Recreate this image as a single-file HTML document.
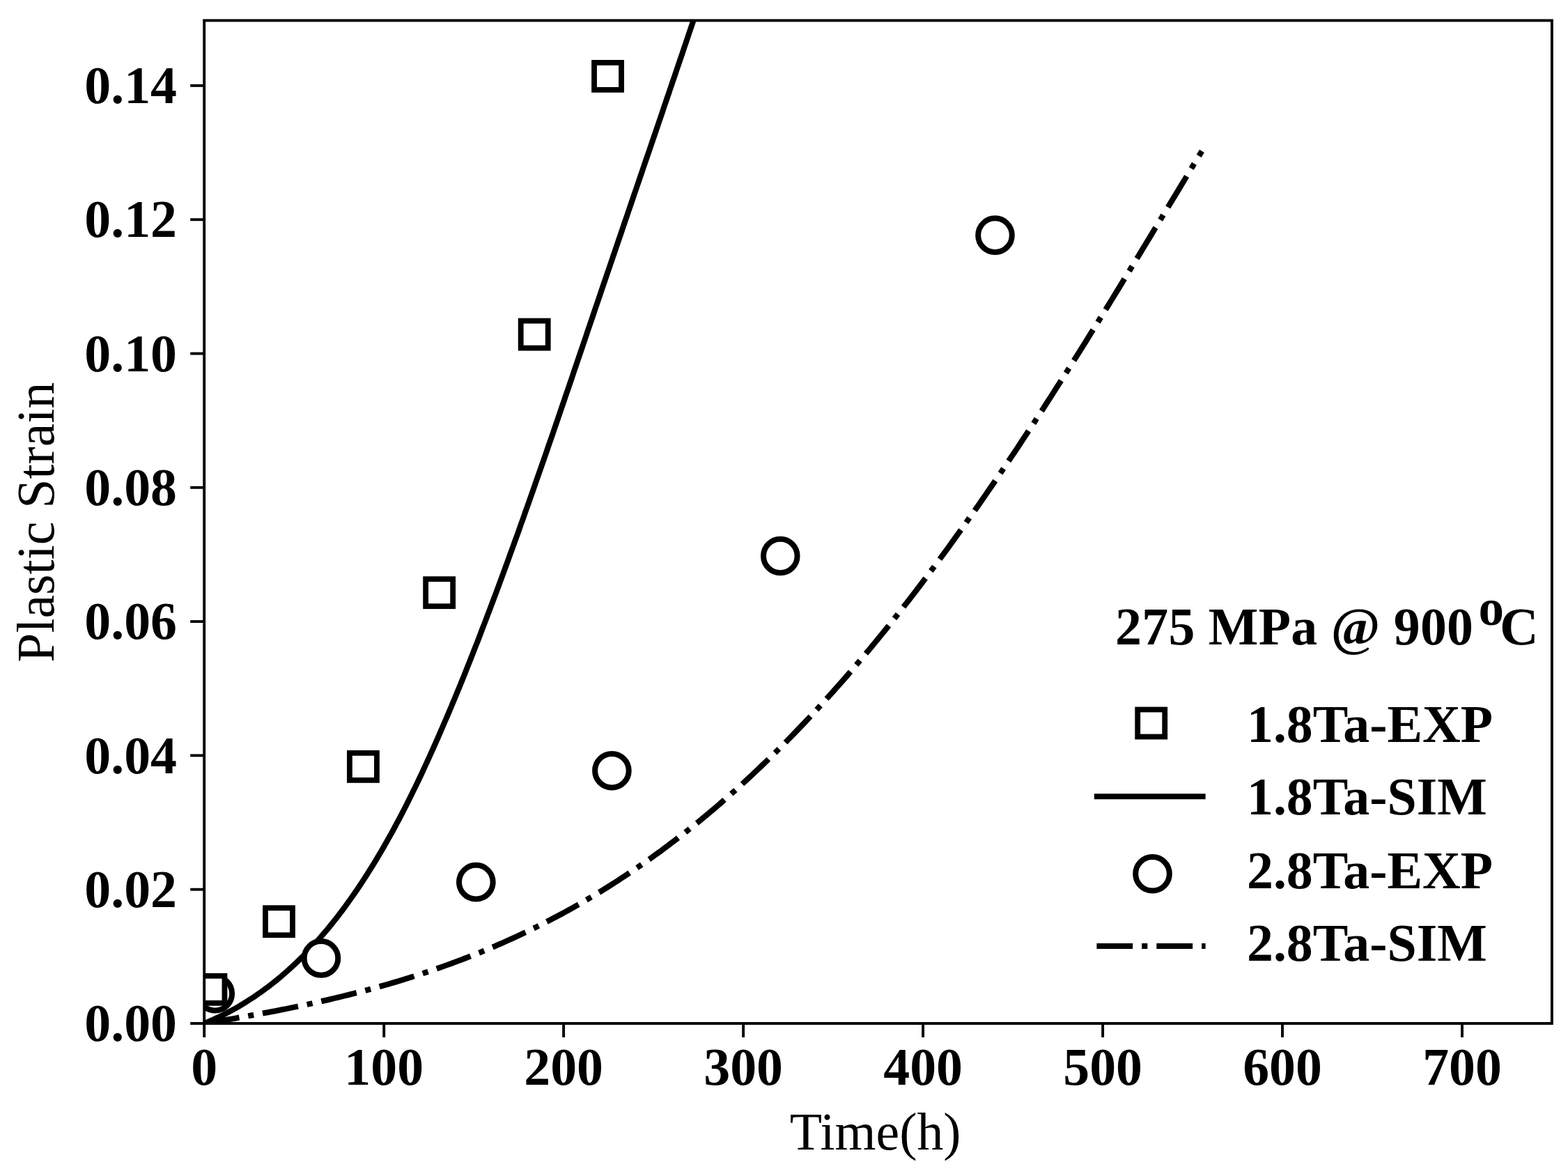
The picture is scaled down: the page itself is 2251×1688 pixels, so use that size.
<!DOCTYPE html>
<html lang="en"><head><meta charset="utf-8"><title>Plastic Strain vs Time</title>
<style>html,body{margin:0;padding:0;background:#fff;}svg{display:block;}</style></head>
<body>
<svg xmlns="http://www.w3.org/2000/svg" width="2251" height="1688" viewBox="0 0 2251 1688">
<rect x="0" y="0" width="2251" height="1688" fill="#fff"/>
<defs><clipPath id="ax"><rect x="293.2" y="29.4" width="1934.7" height="1439.6"/></clipPath></defs>
<g clip-path="url(#ax)" fill="none" stroke="#000">
<path d="M293.2,1469.0 L299.5,1466.4 L305.8,1463.6 L312.0,1460.8 L318.1,1457.8 L324.1,1454.8 L330.1,1451.7 L336.0,1448.5 L341.8,1445.2 L347.5,1441.8 L353.2,1438.3 L358.8,1434.7 L364.4,1431.1 L369.8,1427.3 L375.3,1423.5 L380.6,1419.6 L385.9,1415.7 L391.1,1411.6 L396.3,1407.5 L401.4,1403.3 L406.4,1399.0 L411.4,1394.7 L416.3,1390.3 L421.2,1385.8 L426.0,1381.3 L430.7,1376.7 L435.4,1372.1 L440.0,1367.3 L444.6,1362.6 L449.1,1357.7 L453.6,1352.8 L458.0,1347.9 L462.3,1342.9 L466.6,1337.9 L470.9,1332.8 L475.1,1327.6 L479.2,1322.5 L483.4,1317.2 L487.4,1312.0 L491.4,1306.7 L495.4,1301.3 L499.3,1295.9 L503.2,1290.5 L507.0,1285.0 L510.8,1279.6 L514.6,1274.0 L518.3,1268.5 L521.9,1262.9 L525.6,1257.3 L529.1,1251.7 L532.7,1246.0 L536.2,1240.4 L539.7,1234.7 L543.1,1228.9 L546.5,1223.2 L549.9,1217.4 L553.2,1211.6 L556.5,1205.8 L559.7,1200.0 L563.0,1194.2 L566.2,1188.3 L569.3,1182.4 L572.5,1176.5 L575.6,1170.6 L578.7,1164.7 L581.7,1158.7 L584.7,1152.8 L587.7,1146.8 L590.7,1140.8 L593.6,1134.8 L596.6,1128.8 L599.5,1122.8 L602.3,1116.7 L605.2,1110.7 L608.0,1104.6 L610.8,1098.6 L613.6,1092.5 L616.4,1086.4 L619.1,1080.3 L621.9,1074.2 L624.6,1068.1 L627.3,1062.0 L630.0,1055.9 L632.6,1049.8 L635.3,1043.7 L637.9,1037.5 L640.6,1031.4 L643.2,1025.3 L645.8,1019.1 L648.4,1013.0 L650.9,1006.9 L653.5,1000.7 L656.0,994.6 L658.6,988.4 L661.1,982.2 L663.6,976.1 L666.1,969.9 L668.6,963.7 L671.0,957.6 L673.5,951.4 L675.9,945.2 L678.4,939.0 L680.8,932.8 L683.2,926.6 L685.7,920.4 L688.1,914.2 L690.4,908.0 L692.8,901.8 L695.2,895.6 L697.6,889.4 L699.9,883.2 L702.3,877.0 L704.6,870.8 L707.0,864.5 L709.3,858.3 L711.7,852.1 L714.0,845.8 L716.3,839.6 L718.6,833.4 L720.9,827.1 L723.2,820.9 L725.5,814.6 L727.8,808.4 L730.1,802.1 L732.3,795.9 L734.6,789.6 L736.9,783.4 L739.1,777.1 L741.4,770.8 L743.7,764.6 L745.9,758.3 L748.1,752.0 L750.4,745.8 L752.6,739.5 L754.8,733.2 L757.1,726.9 L759.3,720.6 L761.5,714.4 L763.7,708.1 L765.9,701.8 L768.1,695.5 L770.3,689.2 L772.5,682.9 L774.7,676.6 L776.9,670.3 L779.1,664.1 L781.3,657.8 L783.5,651.5 L785.7,645.2 L787.8,638.9 L790.0,632.6 L792.2,626.3 L794.4,620.0 L796.5,613.7 L798.7,607.4 L800.9,601.0 L803.0,594.7 L805.2,588.4 L807.3,582.1 L809.5,575.8 L811.6,569.5 L813.8,563.2 L816.0,556.9 L818.1,550.6 L820.3,544.3 L822.4,538.0 L824.5,531.6 L826.7,525.3 L828.8,519.0 L831.0,512.7 L833.1,506.4 L835.3,500.1 L837.4,493.8 L839.6,487.5 L841.7,481.2 L843.8,474.8 L846.0,468.5 L848.1,462.2 L850.3,455.9 L852.4,449.6 L854.5,443.3 L856.7,437.0 L858.8,430.7 L861.0,424.4 L863.1,418.0 L865.3,411.7 L867.4,405.4 L869.6,399.1 L871.7,392.8 L873.9,386.5 L876.0,380.2 L878.2,373.9 L880.3,367.6 L882.5,361.3 L884.6,355.0 L886.8,348.7 L888.9,342.4 L891.1,336.1 L893.2,329.8 L895.4,323.4 L897.5,317.1 L899.7,310.8 L901.8,304.5 L904.0,298.2 L906.1,291.9 L908.3,285.6 L910.4,279.3 L912.6,273.0 L914.7,266.7 L916.9,260.4 L919.0,254.1 L921.2,247.8 L923.3,241.5 L925.5,235.2 L927.6,228.9 L929.8,222.6 L932.0,216.3 L934.1,210.0 L936.3,203.7 L938.4,197.4 L940.6,191.1 L942.7,184.8 L944.9,178.5 L947.0,172.2 L949.2,165.9 L951.3,159.6 L953.4,153.3 L955.6,146.9 L957.7,140.6 L959.9,134.3 L962.0,128.0 L964.2,121.7 L966.3,115.4 L968.5,109.1 L970.6,102.8 L972.7,96.5 L974.9,90.2 L977.0,83.9 L979.2,77.6 L981.3,71.3 L983.4,64.9 L985.6,58.6 L987.7,52.3 L989.8,46.0 L992.0,39.7 L994.1,33.4 L996.2,27.1 L998.4,20.7 L1000.5,14.4 L1002.6,8.1 L1004.8,1.8 L1006.9,-4.5 L1009.0,-10.8 L1011.1,-17.2 L1013.3,-23.5 L1015.4,-29.8 L1017.5,-36.1 L1019.6,-42.4 L1021.7,-48.8 L1023.8,-55.1" stroke-width="8.1" stroke-linejoin="round"/>
<path d="M293.2,1469.0 L298.0,1468.2 L302.8,1467.5 L307.6,1466.7 L312.4,1465.9 L317.1,1465.1 L321.9,1464.3 L326.7,1463.5 L331.5,1462.7 L336.3,1461.9 L341.1,1461.0 L345.9,1460.2 L350.7,1459.4 L355.5,1458.5 L360.3,1457.6 L365.0,1456.8 L369.8,1455.9 L374.6,1455.0 L379.4,1454.1 L384.2,1453.2 L389.0,1452.3 L393.8,1451.4 L398.6,1450.5 L403.4,1449.5 L408.2,1448.6 L412.9,1447.6 L417.7,1446.6 L422.5,1445.6 L427.3,1444.6 L432.1,1443.6 L436.9,1442.6 L441.7,1441.6 L446.5,1440.6 L451.3,1439.5 L456.1,1438.4 L460.8,1437.4 L465.6,1436.3 L470.4,1435.2 L475.2,1434.0 L480.0,1432.9 L484.8,1431.8 L489.6,1430.6 L494.4,1429.4 L499.2,1428.2 L504.0,1427.0 L508.7,1425.8 L513.5,1424.6 L518.3,1423.3 L523.1,1422.1 L527.9,1420.8 L532.7,1419.5 L537.5,1418.2 L542.3,1416.9 L547.1,1415.5 L551.9,1414.2 L556.6,1412.8 L561.4,1411.4 L566.2,1410.0 L571.0,1408.6 L575.8,1407.1 L580.6,1405.6 L585.4,1404.2 L590.2,1402.7 L595.0,1401.1 L599.8,1399.6 L604.5,1398.0 L609.3,1396.4 L614.1,1394.8 L618.9,1393.2 L623.7,1391.6 L628.5,1389.9 L633.3,1388.2 L638.1,1386.5 L642.9,1384.8 L647.7,1383.1 L652.4,1381.3 L657.2,1379.5 L662.0,1377.7 L666.8,1375.9 L671.6,1374.0 L676.4,1372.1 L681.2,1370.2 L686.0,1368.3 L690.8,1366.4 L695.6,1364.4 L700.3,1362.4 L705.1,1360.4 L709.9,1358.4 L714.7,1356.3 L719.5,1354.2 L724.3,1352.1 L729.1,1349.9 L733.9,1347.8 L738.7,1345.6 L743.5,1343.4 L748.2,1341.1 L753.0,1338.8 L757.8,1336.6 L762.6,1334.2 L767.4,1331.9 L772.2,1329.5 L777.0,1327.1 L781.8,1324.7 L786.6,1322.2 L791.4,1319.7 L796.1,1317.2 L800.9,1314.7 L805.7,1312.1 L810.5,1309.5 L815.3,1306.9 L820.1,1304.2 L824.9,1301.5 L829.7,1298.8 L834.5,1296.1 L839.3,1293.3 L844.0,1290.5 L848.8,1287.6 L853.6,1284.8 L858.4,1281.9 L863.2,1279.0 L868.0,1276.0 L872.8,1273.0 L877.6,1270.0 L882.4,1266.9 L887.2,1263.9 L891.9,1260.7 L896.7,1257.6 L901.5,1254.4 L906.3,1251.2 L911.1,1248.0 L915.9,1244.7 L920.7,1241.4 L925.5,1238.1 L930.3,1234.7 L935.1,1231.3 L939.8,1227.8 L944.6,1224.4 L949.4,1220.9 L954.2,1217.3 L959.0,1213.7 L963.8,1210.1 L968.6,1206.5 L973.4,1202.8 L978.2,1199.1 L983.0,1195.4 L987.7,1191.6 L992.5,1187.8 L997.3,1183.9 L1002.1,1180.1 L1006.9,1176.1 L1011.7,1172.2 L1016.5,1168.2 L1021.3,1164.2 L1026.1,1160.1 L1030.9,1156.0 L1035.6,1151.9 L1040.4,1147.7 L1045.2,1143.5 L1050.0,1139.3 L1054.8,1135.0 L1059.6,1130.7 L1064.4,1126.4 L1069.2,1122.0 L1074.0,1117.6 L1078.8,1113.1 L1083.5,1108.6 L1088.3,1104.1 L1093.1,1099.5 L1097.9,1094.9 L1102.7,1090.3 L1107.5,1085.6 L1112.3,1080.9 L1117.1,1076.2 L1121.9,1071.4 L1126.7,1066.6 L1131.4,1061.7 L1136.2,1056.8 L1141.0,1051.9 L1145.8,1046.9 L1150.6,1041.9 L1155.4,1036.9 L1160.2,1031.8 L1165.0,1026.7 L1169.8,1021.5 L1174.6,1016.3 L1179.3,1011.1 L1184.1,1005.8 L1188.9,1000.5 L1193.7,995.2 L1198.5,989.8 L1203.3,984.4 L1208.1,979.0 L1212.9,973.5 L1217.7,968.0 L1222.5,962.4 L1227.2,956.8 L1232.0,951.2 L1236.8,945.5 L1241.6,939.8 L1246.4,934.1 L1251.2,928.3 L1256.0,922.5 L1260.8,916.7 L1265.6,910.8 L1270.4,904.9 L1275.1,898.9 L1279.9,892.9 L1284.7,886.9 L1289.5,880.8 L1294.3,874.7 L1299.1,868.6 L1303.9,862.5 L1308.7,856.3 L1313.5,850.0 L1318.3,843.8 L1323.0,837.5 L1327.8,831.1 L1332.6,824.7 L1337.4,818.3 L1342.2,811.9 L1347.0,805.4 L1351.8,798.9 L1356.6,792.4 L1361.4,785.8 L1366.2,779.2 L1370.9,772.6 L1375.7,765.9 L1380.5,759.2 L1385.3,752.5 L1390.1,745.7 L1394.9,739.0 L1399.7,732.1 L1404.5,725.3 L1409.3,718.4 L1414.1,711.5 L1418.8,704.5 L1423.6,697.6 L1428.4,690.6 L1433.2,683.5 L1438.0,676.5 L1442.8,669.4 L1447.6,662.3 L1452.4,655.1 L1457.2,648.0 L1462.0,640.8 L1466.7,633.5 L1471.5,626.3 L1476.3,619.0 L1481.1,611.7 L1485.9,604.4 L1490.7,597.0 L1495.5,589.7 L1500.3,582.3 L1505.1,574.8 L1509.9,567.4 L1514.6,559.9 L1519.4,552.4 L1524.2,544.9 L1529.0,537.4 L1533.8,529.8 L1538.6,522.3 L1543.4,514.7 L1548.2,507.1 L1553.0,499.4 L1557.8,491.8 L1562.5,484.1 L1567.3,476.4 L1572.1,468.7 L1576.9,461.0 L1581.7,453.3 L1586.5,445.5 L1591.3,437.8 L1596.1,430.0 L1600.9,422.2 L1605.7,414.4 L1610.4,406.6 L1615.2,398.7 L1620.0,390.9 L1624.8,383.0 L1629.6,375.2 L1634.4,367.3 L1639.2,359.4 L1644.0,351.5 L1648.8,343.6 L1653.6,335.7 L1658.3,327.8 L1663.1,319.9 L1667.9,312.0 L1672.7,304.1 L1677.5,296.2 L1682.3,288.2 L1687.1,280.3 L1691.9,272.4 L1696.7,264.4 L1701.5,256.5 L1706.2,248.6 L1711.0,240.6 L1715.8,232.7 L1720.6,224.8 L1725.4,216.9" stroke-width="8.1" stroke-dasharray="51.95 13 8.1 13" stroke-dashoffset="1"/>
<circle cx="308.80" cy="1426.13" r="24.3" fill="#fff" stroke-width="8.0"/>
<circle cx="460.95" cy="1375.41" r="24.3" fill="#fff" stroke-width="8.0"/>
<circle cx="683.33" cy="1266.17" r="24.3" fill="#fff" stroke-width="8.0"/>
<circle cx="878.39" cy="1106.22" r="24.3" fill="#fff" stroke-width="8.0"/>
<circle cx="1120.27" cy="798.02" r="24.3" fill="#fff" stroke-width="8.0"/>
<circle cx="1428.48" cy="337.66" r="24.3" fill="#fff" stroke-width="8.0"/>
<rect x="283.44" y="1400.77" width="39.01" height="39.01" fill="#fff" stroke-width="7.80"/>
<rect x="380.98" y="1303.23" width="39.01" height="39.01" fill="#fff" stroke-width="7.80"/>
<rect x="501.92" y="1080.86" width="39.01" height="39.01" fill="#fff" stroke-width="7.80"/>
<rect x="611.15" y="831.18" width="39.01" height="39.01" fill="#fff" stroke-width="7.80"/>
<rect x="747.70" y="460.55" width="39.01" height="39.01" fill="#fff" stroke-width="7.80"/>
<rect x="853.03" y="89.93" width="39.01" height="39.01" fill="#fff" stroke-width="7.80"/>
</g>
<g fill="none" stroke="#000" stroke-width="3.9">
<rect x="293.2" y="29.4" width="1934.7" height="1439.6"/>
<line x1="293.2" y1="1469.0" x2="293.2" y2="1489.0"/>
<line x1="273.2" y1="1469.0" x2="293.2" y2="1469.0"/>
<line x1="551.2" y1="1469.0" x2="551.2" y2="1489.0"/>
<line x1="273.2" y1="1276.7" x2="293.2" y2="1276.7"/>
<line x1="809.1" y1="1469.0" x2="809.1" y2="1489.0"/>
<line x1="273.2" y1="1084.4" x2="293.2" y2="1084.4"/>
<line x1="1067.1" y1="1469.0" x2="1067.1" y2="1489.0"/>
<line x1="273.2" y1="892.1" x2="293.2" y2="892.1"/>
<line x1="1325.1" y1="1469.0" x2="1325.1" y2="1489.0"/>
<line x1="273.2" y1="699.8" x2="293.2" y2="699.8"/>
<line x1="1583.1" y1="1469.0" x2="1583.1" y2="1489.0"/>
<line x1="273.2" y1="507.5" x2="293.2" y2="507.5"/>
<line x1="1841.0" y1="1469.0" x2="1841.0" y2="1489.0"/>
<line x1="273.2" y1="315.2" x2="293.2" y2="315.2"/>
<line x1="2099.0" y1="1469.0" x2="2099.0" y2="1489.0"/>
<line x1="273.2" y1="122.9" x2="293.2" y2="122.9"/>
</g>
<g font-family="'Liberation Serif', 'Times New Roman', serif" font-size="75.8" fill="#000">
<g font-weight="bold">
<text x="254" y="1494.2" text-anchor="end">0.00</text>
<text x="254" y="1301.9" text-anchor="end">0.02</text>
<text x="254" y="1109.6" text-anchor="end">0.04</text>
<text x="254" y="917.3" text-anchor="end">0.06</text>
<text x="254" y="725.0" text-anchor="end">0.08</text>
<text x="254" y="532.7" text-anchor="end">0.10</text>
<text x="254" y="340.4" text-anchor="end">0.12</text>
<text x="254" y="148.1" text-anchor="end">0.14</text>
<text x="293.2" y="1556.7" text-anchor="middle">0</text>
<text x="551.2" y="1556.7" text-anchor="middle">100</text>
<text x="809.1" y="1556.7" text-anchor="middle">200</text>
<text x="1067.1" y="1556.7" text-anchor="middle">300</text>
<text x="1325.1" y="1556.7" text-anchor="middle">400</text>
<text x="1583.1" y="1556.7" text-anchor="middle">500</text>
<text x="1841.0" y="1556.7" text-anchor="middle">600</text>
<text x="2099.0" y="1556.7" text-anchor="middle">700</text>
<text x="1601" y="925.1" textLength="514" lengthAdjust="spacing">275 MPa @ 900</text>
<text x="2122.5" y="896.6" font-size="73">o</text>
<text x="2153" y="925.1" font-size="77">C</text>
<text x="1790" y="1065.2">1.8Ta-EXP</text>
<text x="1790" y="1169.1">1.8Ta-SIM</text>
<text x="1790" y="1275.3">2.8Ta-EXP</text>
<text x="1790" y="1379.2">2.8Ta-SIM</text>
</g>
<text x="1256.7" y="1650.2" text-anchor="middle">Time(h)</text>
<text transform="translate(76.9 749.7) rotate(-90)" text-anchor="middle">Plastic Strain</text>
</g>
<g fill="none" stroke="#000">
<rect x="1633.2" y="1018.5" width="39.01" height="39.01" fill="#fff" stroke-width="7.80"/>
<line x1="1570.8" y1="1143.3" x2="1730.6" y2="1143.3" stroke-width="8.1"/>
<circle cx="1654.5" cy="1254.3" r="24.3" fill="#fff" stroke-width="8.0"/>
<line x1="1574.4" y1="1358" x2="1730.6" y2="1358" stroke-width="8.1" stroke-dasharray="51.8 13 8.1 13"/>
</g>
</svg>
</body></html>
